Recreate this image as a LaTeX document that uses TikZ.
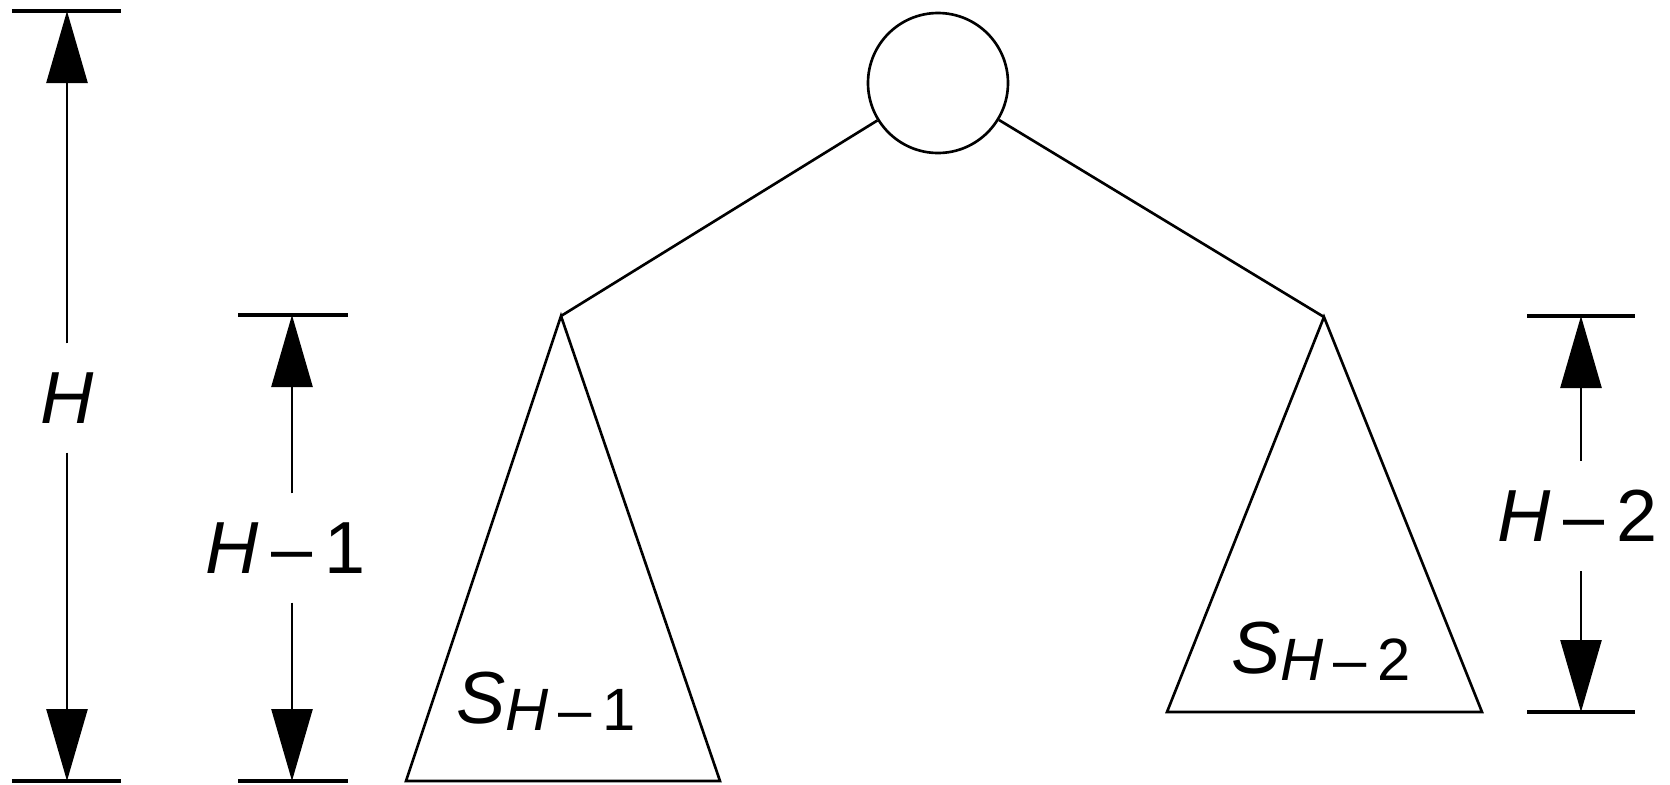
\documentclass[tikz,border=0pt]{standalone}
\usepackage{fontspec}
\setmainfont{Liberation Sans}
\usetikzlibrary{arrows.meta}

\begin{document}
\begin{tikzpicture}[>={Triangle[length=7.2mm, width=4.1mm]}, line width=0.75pt,
  bar/.style={line width=1.1pt},
  dimlabel/.style={inner xsep=0pt, inner ysep=0.28cm, font=\fontsize{21}{24}\selectfont},
  treelabel/.style={inner sep=0pt, font=\fontsize{21}{24}\selectfont}]
  \useasboundingbox (0,0) rectangle (16.70,7.84);

  % raiz y subarboles
  \node[circle, draw, minimum size=1.40cm, inner sep=0pt] (root) at (9.38,7.01) {};
  \coordinate (apexL) at (5.61,4.68);
  \coordinate (baseLL) at (4.06,0.03);
  \coordinate (baseLR) at (7.20,0.03);
  \coordinate (apexR) at (13.24,4.67);
  \coordinate (baseRL) at (11.67,0.72);
  \coordinate (baseRR) at (14.82,0.72);
  \draw (root) -- (apexL);
  \draw (root) -- (apexR);
  \draw (apexL) -- (baseLL) -- (baseLR) -- cycle;
  \draw (apexR) -- (baseRL) -- (baseRR) -- cycle;
  \node[treelabel] (subL) at (5.46,0.83)
    {\textit{S}\raisebox{-0.07cm}{\fontsize{17}{20}\selectfont\textit{H}\,–\,1}};
  \node[treelabel] (subR) at (13.21,1.33)
    {\textit{S}\raisebox{-0.07cm}{\fontsize{17}{20}\selectfont\textit{H}\,–\,2}};

  % cotas de altura
  \coordinate (topH) at (0.67,7.73);
  \coordinate (botH) at (0.67,0.03);
  \coordinate (topL) at (2.92,4.69);
  \coordinate (botL) at (2.92,0.03);
  \coordinate (topR) at (15.81,4.68);
  \coordinate (botR) at (15.81,0.72);
  \draw[bar] (0.12,7.73) -- (1.21,7.73);
  \draw[bar] (0.12,0.03) -- (1.21,0.03);
  \draw[bar] (2.38,4.69) -- (3.48,4.69);
  \draw[bar] (2.38,0.03) -- (3.48,0.03);
  \draw[bar] (15.27,4.68) -- (16.35,4.68);
  \draw[bar] (15.27,0.72) -- (16.35,0.72);
  \node[dimlabel] (lblH) at (0.67,3.86) {\textit{H}};
  \node[dimlabel] (lblL) at (2.86,2.36) {\textit{H}\,–\,1};
  \node[dimlabel] (lblR) at (15.78,2.68) {\textit{H}\,–\,2};
  \draw[->] (lblH.north -| topH) -- (topH);
  \draw[->] (lblH.south -| botH) -- (botH);
  \draw[->] (lblL.north -| topL) -- (topL);
  \draw[->] (lblL.south -| botL) -- (botL);
  \draw[->] (lblR.north -| topR) -- (topR);
  \draw[->] (lblR.south -| botR) -- (botR);
\end{tikzpicture}
\end{document}
